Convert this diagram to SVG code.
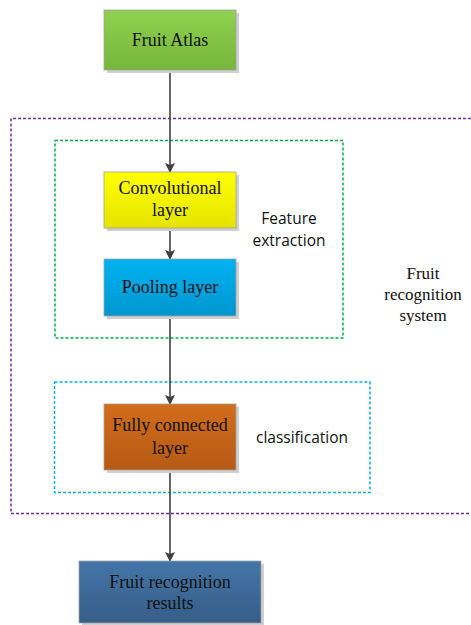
<svg xmlns="http://www.w3.org/2000/svg" width="471" height="625" viewBox="0 0 471 625">
<style>
.box{stroke:#a0a0a0;stroke-width:0.8}
.shadow{fill:#d0d0d0}
.grp{fill:none;stroke-width:1.5;stroke-dasharray:3 2}
.conn{stroke:#404040;stroke-width:1.6;fill:none}
</style>
<defs>
<linearGradient id="gG" x1="0" y1="0" x2="0" y2="1"><stop offset="0" stop-color="#8fd150"/><stop offset="1" stop-color="#76b63a"/></linearGradient>
<linearGradient id="gY" x1="0" y1="0" x2="0" y2="1"><stop offset="0" stop-color="#ffff00"/><stop offset="1" stop-color="#e4e400"/></linearGradient>
<linearGradient id="gB" x1="0" y1="0" x2="0" y2="1"><stop offset="0" stop-color="#00b2f0"/><stop offset="1" stop-color="#0096cf"/></linearGradient>
<linearGradient id="gO" x1="0" y1="0" x2="0" y2="1"><stop offset="0" stop-color="#d26d1b"/><stop offset="1" stop-color="#b65a14"/></linearGradient>
<linearGradient id="gN" x1="0" y1="0" x2="0" y2="1"><stop offset="0" stop-color="#4475a8"/><stop offset="1" stop-color="#365e88"/></linearGradient>
<marker id="arr" markerWidth="10" markerHeight="10" refX="9" refY="5" orient="auto" markerUnits="userSpaceOnUse"><path d="M0,0 L10,5 L0,10 L2,5 Z" fill="#404040"/></marker>
</defs>
<g id="groups">
<path class="grp" stroke="#7030a0" d="M471,118.5 H11 V513.5 H471"/>
<rect class="grp" stroke="#00b050" x="55" y="140.5" width="288" height="197.5"/>
<rect class="grp" stroke="#00b0f0" x="54.5" y="382" width="315.5" height="110.5"/>
</g>
<g id="connectors">
<line class="conn" x1="170" y1="70" x2="170" y2="172" marker-end="url(#arr)"/>
<line class="conn" x1="170" y1="228" x2="170" y2="259" marker-end="url(#arr)"/>
<line class="conn" x1="170" y1="316" x2="170" y2="404" marker-end="url(#arr)"/>
<line class="conn" x1="170" y1="470" x2="170" y2="561" marker-end="url(#arr)"/>
</g>
<g font-family="Liberation Serif, DejaVu Serif, serif" font-size="18" fill="#111" text-anchor="middle">
<g id="fruit-atlas">
<rect class="shadow" x="107" y="13" width="132" height="60"/>
<rect class="box" x="104" y="10" width="132" height="60" fill="url(#gG)"/>
<text x="170" y="46">Fruit Atlas</text>
</g>
<g id="convolutional">
<rect class="shadow" x="107" y="175" width="132" height="56"/>
<rect class="box" x="104" y="172" width="132" height="56" fill="url(#gY)"/>
<text x="170" y="194">Convolutional</text>
<text x="170" y="216">layer</text>
</g>
<g id="pooling">
<rect class="shadow" x="107" y="262" width="132" height="57"/>
<rect class="box" x="104" y="259" width="132" height="57" fill="url(#gB)"/>
<text x="170" y="293">Pooling layer</text>
</g>
<g id="fully-connected">
<rect class="shadow" x="107" y="407" width="132" height="66"/>
<rect class="box" x="104" y="404" width="132" height="66" fill="url(#gO)"/>
<text x="170" y="431">Fully connected</text>
<text x="170" y="454">layer</text>
</g>
<g id="results">
<rect class="shadow" x="82" y="564" width="182" height="62"/>
<rect class="box" x="79" y="561" width="182" height="62" fill="url(#gN)"/>
<text x="170" y="588">Fruit recognition</text>
<text x="170" y="609">results</text>
</g>
<g id="system-label" font-size="17">
<text x="423" y="279">Fruit</text>
<text x="423" y="300">recognition</text>
<text x="423" y="321">system</text>
</g>
</g>
<g id="labels" font-family="Open Sans, Liberation Sans, sans-serif" font-size="15.5" fill="#111" text-anchor="middle">
<text x="289" y="224">Feature</text>
<text x="289" y="246">extraction</text>
<text x="302" y="443">classification</text>
</g>
</svg>
